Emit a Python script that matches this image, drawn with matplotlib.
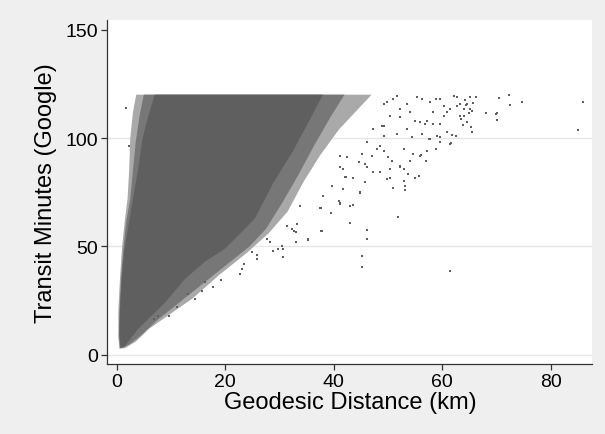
import matplotlib
matplotlib.use("Agg")
import matplotlib.pyplot as plt

plt.rcParams["font.family"] = ["Liberation Sans", "DejaVu Sans"]

# outer edge of the visible cloud (sparse dither)
outer_x = [0.5, 0.3, 0.3, 0.6, 1.0, 1.5, 2.0, 2.3, 2.5, 3.0, 3.6, 47.0,
           44.0, 41.0, 37.5, 34.5, 31.5, 28.0, 24.0, 19.0, 14.0, 10.0, 6.0, 3.5, 1.5]
outer_y = [2.8, 8, 20, 35, 50, 62, 72, 85, 100, 112, 120, 120,
           112, 104, 92, 80, 66, 56, 47, 37, 26, 19, 12, 6, 3]

# medium density band
mid_x = [0.6, 0.4, 0.5, 0.8, 1.2, 1.8, 2.5, 3.0, 3.5, 4.2, 5.0, 42.0,
         39.5, 36.5, 33.5, 30.5, 27.5, 24.5, 20.5, 16.0, 11.5, 7.5, 4.5, 2.5, 1.2]
mid_y = [3.0, 9, 20, 35, 48, 62, 72, 85, 98, 110, 120, 120,
         110, 97, 83, 70, 58, 50, 42, 33, 24, 16, 9, 5, 3.2]

# solid core
core_x = [0.7, 0.5, 0.6, 0.9, 1.4, 2.2, 3.0, 3.9, 4.8, 5.8, 7.0, 38.0,
          35.5, 32.5, 28.8, 25.5, 22.8, 20.0, 16.3, 12.6, 8.9, 4.0, 1.5]
core_y = [3.2, 10, 20, 35, 48, 60, 72, 85, 100, 110, 120, 120,
          108, 94, 79, 63, 56, 49, 43, 35, 24, 12, 4]

# scattered outlying trips
pts_x = [86.0, 85.0, 74.7, 72.4, 72.6, 70.5, 70.1, 70.2, 68.1, 66.2, 65.4, 65.6,
         61.6, 51.9, 44.8, 46.2, 46.2, 43.0, 37.7, 35.3, 45.3, 45.3, 61.4, 51.0,
         53.1, 53.2, 55.0, 55.8, 50.4, 52.9, 57.0, 56.1, 58.9, 61.8, 62.5, 58.9,
         62.2, 64.6, 63.3, 60.9, 56.3, 57.8, 59.6, 57.2, 55.4, 54.1, 52.3, 51.7,
         49.8, 49.2, 47.3, 48.6, 46.1, 50.1, 50.7, 48.0, 47.0, 46.1, 45.8, 44.6,
         43.6, 42.1, 41.2, 43.0, 43.6, 40.9, 41.2, 39.5, 37.6, 33.8, 38.1, 39.7,
         41.8, 54.1, 54.7, 57.5, 59.6, 60.9, 64.6, 65.2, 62.7, 60.3, 58.4, 56.0,
         53.5, 51.7, 49.2, 52.9, 52.3, 48.6, 49.8, 47.3, 45.8, 69.9, 65.2, 65.7,
         65.5, 64.9, 64.1, 64.2, 64.4, 63.8, 63.5, 33.1, 30.6, 30.6, 33.1, 32.6,
         19.3, 22.7, 23.1, 23.4, 25.8, 25.9, 24.9, 30.7, 28.9, 29.8, 30.4, 35.2,
         37.8, 33.2, 32.3, 31.4, 37.5, 28.3, 27.7, 9.6, 14.4, 15.7, 17.8, 11.1,
         6.8, 13.2, 16.3, 7.7, 41.2, 44.8, 41.7, 52.9, 42.3, 53.8, 50.4, 52.3,
         41.8, 41.2, 42.4, 45.2, 49.2, 56.0, 57.2, 61.5, 59.6, 59.0, 57.8, 54.4,
         56.3, 56.9, 55.0, 52.3, 50.4, 48.9, 53.5, 59.6, 61.5, 62.7, 63.3, 64.0,
         60.3, 58.4, 51.0, 49.2, 1.7, 2.3]
pts_y = [116.5, 103.8, 116.5, 120.0, 115.4, 118.6, 111.4, 108.3, 111.7, 119.1, 104.9, 102.6,
         97.7, 63.5, 74.6, 57.7, 53.4, 60.8, 57.0, 53.1, 45.5, 40.3, 38.5, 76.8,
         77.7, 75.9, 81.4, 82.6, 81.7, 85.7, 89.4, 92.2, 94.9, 101.4, 101.1, 118.0,
         119.2, 115.7, 110.3, 111.9, 118.0, 116.5, 106.5, 108.0, 118.8, 111.9, 113.4, 119.5,
         116.5, 105.7, 104.2, 96.5, 98.0, 91.1, 89.5, 94.9, 91.8, 86.5, 88.0, 88.8,
         81.7, 81.9, 86.5, 68.8, 69.1, 71.1, 69.5, 65.4, 67.7, 68.8, 73.4, 78.0,
         76.5, 89.5, 92.6, 99.5, 100.3, 102.6, 107.2, 113.4, 114.9, 114.9, 111.9, 107.2,
         104.2, 101.8, 101.1, 94.9, 87.2, 84.2, 81.1, 84.2, 79.6, 111.2, 118.8, 116.2,
         112.6, 111.7, 113.4, 117.7, 115.4, 106.0, 108.8, 52.1, 44.9, 48.8, 56.5, 57.2,
         34.6, 37.2, 39.5, 41.9, 44.2, 46.0, 47.3, 44.9, 48.0, 48.8, 50.3, 53.4,
         57.0, 60.3, 58.0, 59.5, 67.6, 51.9, 53.4, 18.0, 25.7, 29.5, 31.1, 21.9,
         16.5, 28.0, 33.4, 18.0, 70.0, 74.9, 76.3, 80.0, 82.1, 83.4, 85.7, 86.5,
         85.7, 91.8, 91.1, 92.6, 94.1, 91.8, 94.1, 97.2, 98.0, 101.1, 99.5, 100.3,
         101.8, 106.5, 108.0, 109.5, 110.3, 105.7, 115.7, 118.0, 113.4, 118.8, 115.7, 110.3,
         110.3, 106.5, 118.0, 115.7, 114.0, 96.5]

xticks = [0, 20, 40, 60, 80]
yticks = [0, 50, 100, 150]

dot = "#5f5f5f"

fig = plt.figure(figsize=(6.05, 4.35), dpi=100, facecolor="#efefef")
ax = fig.add_axes([0.1774, 0.1609, 0.8017, 0.7915])
ax.set_facecolor("white")

for t in yticks[:-1]:
    ax.axhline(t, color="#e6e6e6", linewidth=1.0, zorder=0)

ax.fill(outer_x, outer_y, color="#a9a9a9", linewidth=0, zorder=2)
ax.fill(mid_x, mid_y, color="#777777", linewidth=0, zorder=3)
ax.fill(core_x, core_y, color=dot, linewidth=0, zorder=4)
ax.scatter(pts_x, pts_y, s=1.6, marker="s", color=dot, linewidths=0, zorder=5)

ax.set_xlim(-1.73, 87.7)
ax.set_ylim(-4.3, 154.6)
ax.set_xticks(xticks)
ax.set_yticks(yticks)
ax.tick_params(labelsize=14, length=4.5, width=0.9, color="#333333", pad=2)
for s in ["top", "right"]:
    ax.spines[s].set_visible(False)
for s in ["left", "bottom"]:
    ax.spines[s].set_color("#333333")
    ax.spines[s].set_linewidth(0.9)

ax.set_xlabel("Geodesic Distance (km)", fontsize=17, labelpad=1)
ax.set_ylabel("Transit Minutes (Google)", fontsize=17, labelpad=6)

fig.savefig("out.png", dpi=100, facecolor=fig.get_facecolor())
